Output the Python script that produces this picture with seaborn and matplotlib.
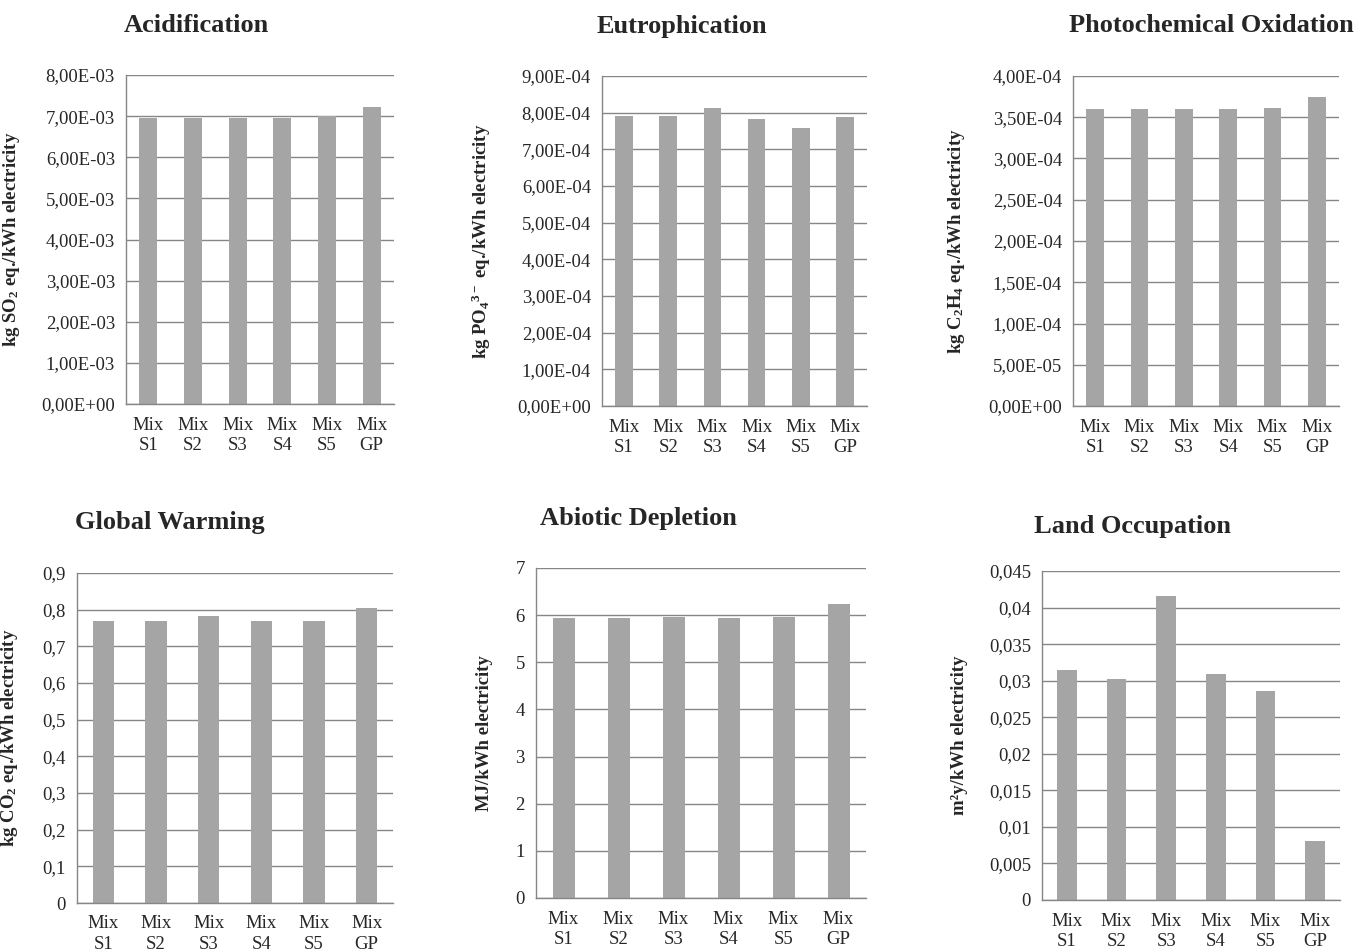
import matplotlib
matplotlib.use("Agg")
import matplotlib.pyplot as plt
import seaborn as sns
import numpy as np
import pandas as pd

categories = ["Mix\nS1", "Mix\nS2", "Mix\nS3", "Mix\nS4", "Mix\nS5", "Mix\nGP"]

acidification = [6.95e-3, 6.95e-3, 6.95e-3, 6.95e-3, 7.00e-3, 7.23e-3]
eutrophication = [7.91e-4, 7.91e-4, 8.12e-4, 7.84e-4, 7.59e-4, 7.87e-4]
photochemical = [3.595e-4, 3.595e-4, 3.595e-4, 3.595e-4, 3.61e-4, 3.75e-4]
global_warming = [0.769, 0.769, 0.784, 0.769, 0.769, 0.805]
abiotic = [5.93, 5.93, 5.96, 5.93, 5.96, 6.23]
land = [0.0314, 0.0302, 0.0416, 0.0309, 0.0286, 0.0081]

titles = ["Acidification", "Eutrophication", "Photochemical Oxidation",
          "Global Warming", "Abiotic Depletion", "Land Occupation"]
ylabels = [r"kg SO$_{\mathbf{2}}$ eq./kWh electricity",
           r"kg PO$_{\mathbf{4}}$$^{\mathbf{3-}}$ eq./kWh electricity",
           r"kg C$_{\mathbf{2}}$H$_{\mathbf{4}}$ eq./kWh electricity",
           r"kg CO$_{\mathbf{2}}$ eq./kWh electricity",
           "MJ/kWh electricity",
           "m²y/kWh electricity"]
ymax = [8e-3, 9e-4, 4e-4, 0.9, 7, 0.045]
ystep = [1e-3, 1e-4, 5e-5, 0.1, 1, 0.005]
sci = [True, True, True, False, False, False]
series = [acidification, eutrophication, photochemical, global_warming, abiotic, land]

sns.set_style("white")
plt.rcParams["font.family"] = ["Liberation Serif", "DejaVu Serif"]
plt.rcParams["mathtext.fontset"] = "custom"
plt.rcParams["mathtext.rm"] = "Liberation Serif:bold"
plt.rcParams["mathtext.bf"] = "Liberation Serif:bold"
plt.rcParams["mathtext.it"] = "Liberation Serif:bold"

W, H = 1357, 952
fig = plt.figure(figsize=(W / 100, H / 100), dpi=100)

# pixel boxes: left, right, top, bottom
boxes = [(126, 394, 75, 404), (602, 867, 76, 406), (1073, 1339, 76, 406),
         (77, 393, 573, 903), (536, 866, 568, 898), (1042, 1340, 571, 900)]
title_pos = [(196, 25), (682, 27), (1211, 25), (170, 523), (638, 518), (1133, 526)]
ylab_x = [22, 493, 967, 20, 493, 968]

grid_c = "#868686"
bar_c = "#A5A5A5"

for i in range(6):
    l, r, t, b = boxes[i]
    ax = fig.add_axes([l / W, 1 - b / H, (r - l) / W, (b - t) / H])
    df = pd.DataFrame({"cat": categories, "val": series[i]})
    sns.barplot(data=df, x="cat", y="val", color=bar_c, width=0.4,
                saturation=1, ax=ax, edgecolor="none")
    ax.set_xlim(-0.5, 5.5)
    ax.set_ylim(0, ymax[i])
    n = int(round(ymax[i] / ystep[i]))
    ticks = [k * ystep[i] for k in range(n + 1)]
    ax.set_yticks(ticks)
    if sci[i]:
        labs = [f"{v:.2E}".replace(".", ",") for v in ticks]
    else:
        labs = [f"{round(v, 6):g}".replace(".", ",") for v in ticks]
    ax.set_yticklabels(labs, fontsize=13.5)
    ax.set_xticks(range(6))
    ax.set_xticklabels(categories, fontsize=13.5, linespacing=1.3)
    ax.set_xticks(np.arange(-0.5, 6.0, 1.0), minor=True)
    ax.tick_params(axis="x", which="major", length=0, pad=9)
    ax.tick_params(axis="x", which="minor", length=5, color=grid_c, direction="out", width=1)
    ax.tick_params(axis="y", which="major", length=5, color=grid_c, direction="out", width=1, pad=3)
    ax.yaxis.grid(True, color=grid_c, linewidth=1)
    ax.set_axisbelow(True)
    for s in ["top", "right"]:
        ax.spines[s].set_visible(False)
    for s in ["left", "bottom"]:
        ax.spines[s].set_color(grid_c)
        ax.spines[s].set_linewidth(1)
    ax.set_xlabel("")
    ax.set_ylabel(ylabels[i], fontsize=13.5, fontweight="bold")
    ax.yaxis.set_label_coords((ylab_x[i] - l) / (r - l), 0.5)
    tx, ty = title_pos[i]
    fig.text(tx / W, 1 - ty / H, titles[i], ha="center", va="center",
             fontsize=19, fontweight="bold")

fig.savefig("out.png", dpi=100)
